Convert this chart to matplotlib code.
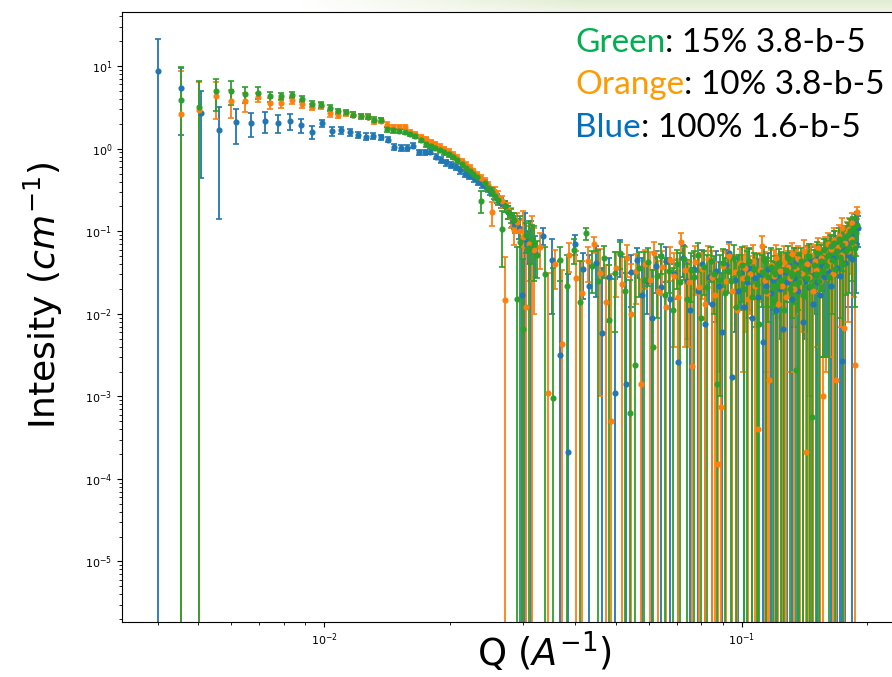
import numpy as np
import matplotlib
matplotlib.use('Agg')
import matplotlib.pyplot as plt

# ---------------- data ----------------
q_blue = [
    0.00400, 0.00454, 0.00507, 0.00561, 0.00615, 0.00669, 0.00722, 0.00776, 0.00830, 0.00883,
    0.00937, 0.00991, 0.01044, 0.01098, 0.01152, 0.01206, 0.01259, 0.01313, 0.01367, 0.01420,
    0.01474, 0.01528, 0.01581, 0.01635, 0.01689, 0.01743, 0.01796, 0.01850, 0.01904, 0.01957,
    0.02011, 0.02065, 0.02118, 0.02172, 0.02226, 0.02280, 0.02333, 0.02387, 0.02441, 0.02494,
    0.02548, 0.02602, 0.02655, 0.02709, 0.02763, 0.02817, 0.02870, 0.02924, 0.02978, 0.03031,
    0.03085, 0.03139,
    0.03192, 0.03353, 0.03514, 0.03676, 0.03837, 0.03998, 0.04159, 0.04320, 0.04481, 0.04642,
    0.04803, 0.04964, 0.05126, 0.05287, 0.05448, 0.05609, 0.05770, 0.05931, 0.06092, 0.06253,
    0.06414, 0.06576, 0.06737, 0.06898, 0.07059, 0.07220, 0.07381, 0.07542, 0.07703, 0.07864,
    0.08026, 0.08187, 0.08348, 0.08509, 0.08670, 0.08831, 0.08992, 0.09153, 0.09314, 0.09476,
    0.09637, 0.09798, 0.09959, 0.10120, 0.10281, 0.10442, 0.10603, 0.10764, 0.10926, 0.11087,
    0.11248, 0.11409, 0.11570, 0.11731, 0.11892, 0.12053, 0.12214, 0.12376, 0.12537, 0.12698,
    0.12859, 0.13020, 0.13181, 0.13342, 0.13503, 0.13664, 0.13826, 0.13987, 0.14148, 0.14309,
    0.14470, 0.14631, 0.14792, 0.14953, 0.15114, 0.15276, 0.15437, 0.15598, 0.15759, 0.15920,
    0.16081, 0.16242, 0.16403, 0.16564, 0.16726, 0.16887, 0.17048, 0.17209, 0.17370, 0.17531,
    0.17692, 0.17853, 0.18014, 0.18176, 0.18337, 0.18498, 0.18659, 0.18820, 0.18981,
]
i_blue = [
    8.8, 5.47, 2.69, 1.69, 2.09, 2.03, 2.15, 2.05, 2.15, 1.91,
    1.60, 2.03, 1.64, 1.67, 1.58, 1.47, 1.40, 1.44, 1.37, 1.29,
    1.06, 1.02, 1.02, 1.09, 0.90, 0.90, 0.92, 0.80, 0.73, 0.68,
    0.64, 0.60, 0.55, 0.50, 0.47, 0.44, 0.40, 0.37, 0.34, 0.31,
    0.28, 0.25, 0.22, 0.20, 0.17, 0.14, 0.125, 0.11, 0.017, 0.08,
    0.07, 0.062,
    0.058, 0.088, 0.045, 0.0032, 0.00021, 0.071, 0.035, 0.022, 0.041, 0.0059,
    0.028, 0.0011, 0.053, 0.0014, 0.032, 0.045, 0.017, 0.025, 0.009, 0.038,
    0.021, 0.044, 0.015, 0.030, 0.0026, 0.048, 0.025, 0.011, 0.035, 0.019,
    0.040, 0.0075, 0.028, 0.013, 0.033, 0.022, 0.006, 0.039, 0.054, 0.0017,
    0.026, 0.019, 0.031, 0.012, 0.024, 0.036, 0.009, 0.027, 0.016, 0.030,
    0.0045, 0.022, 0.035, 0.018, 0.026, 0.011, 0.029, 0.020, 0.0065, 0.032,
    0.024, 0.038, 0.015, 0.027, 0.042, 0.019, 0.031, 0.008, 0.025, 0.036,
    0.021, 0.045, 0.013, 0.030, 0.024, 0.048, 0.017, 0.039, 0.028, 0.055,
    0.033, 0.062, 0.022, 0.047, 0.070, 0.036, 0.058, 0.029, 0.0027, 0.064,
    0.041, 0.075, 0.052, 0.085, 0.046, 0.095, 0.123, 0.068, 0.11,
]
e_blue = [
    12.7, 4.0, 2.25, 1.55, 0.95, 0.66, 0.62, 0.50, 0.45, 0.35,
    0.30, 0.22, 0.20, 0.18, 0.16, 0.14, 0.13, 0.12, 0.11, 0.10,
    0.09, 0.08, 0.08, 0.08, 0.07, 0.07, 0.07, 0.06, 0.06, 0.055,
    0.05, 0.05, 0.05, 0.045, 0.045, 0.04, 0.04, 0.04, 0.035, 0.035,
    0.035, 0.03, 0.03, 0.03, 0.03, 0.028, 0.03, 0.03, 0.06, 0.085,
    0.03, 0.07,
    0.03, 0.02, 0.035, 0.04, 0.03, 0.02, 0.02, 0.03, 0.025, 0.03,
    0.02, 0.025, 0.025, 0.03, 0.02, 0.018, 0.03, 0.015, 0.025, 0.02,
    0.03, 0.02, 0.025, 0.015, 0.03, 0.02, 0.02, 0.025, 0.015, 0.03,
    0.02, 0.03, 0.015, 0.02, 0.025, 0.02, 0.025, 0.02, 0.02, 0.025,
    0.02, 0.03, 0.02, 0.025, 0.015, 0.025, 0.02, 0.02, 0.03, 0.015,
    0.025, 0.02, 0.02, 0.025, 0.015, 0.03, 0.02, 0.015, 0.025, 0.02,
    0.03, 0.02, 0.025, 0.02, 0.02, 0.03, 0.015, 0.025, 0.02, 0.03,
    0.02, 0.02, 0.03, 0.02, 0.025, 0.02, 0.03, 0.02, 0.025, 0.025,
    0.03, 0.025, 0.03, 0.025, 0.03, 0.04, 0.03, 0.04, 0.04, 0.03,
    0.045, 0.035, 0.04, 0.04, 0.05, 0.04, 0.04, 0.05, 0.045,
]

q_low_go = [
    0.00455, 0.00503, 0.00551, 0.00599, 0.00647, 0.00695, 0.00743, 0.00791, 0.00839, 0.00887,
    0.00935, 0.00983, 0.01031, 0.01079, 0.01127, 0.01175, 0.01223, 0.01271, 0.01319, 0.01367,
    0.01415, 0.01463, 0.01511, 0.01559, 0.01607, 0.01655, 0.01703, 0.01751, 0.01799, 0.01847,
    0.01895, 0.01943, 0.01991, 0.02039, 0.02087, 0.02135, 0.02183, 0.02231, 0.02279, 0.02327,
    0.02375, 0.02423, 0.02471, 0.02519, 0.02567, 0.02615, 0.02663, 0.02711, 0.02759, 0.02807,
    0.02855, 0.02903, 0.02951, 0.02999, 0.03047, 0.03095, 0.03143, 0.03191,
]

q_green = q_low_go + [
    0.03239, 0.03383, 0.03527, 0.03671, 0.03815, 0.03959, 0.04103, 0.04247, 0.04391, 0.04535,
    0.04679, 0.04823, 0.04967, 0.05111, 0.05255, 0.05399, 0.05543, 0.05687, 0.05831, 0.05975,
    0.06119, 0.06263, 0.06407, 0.06551, 0.06695, 0.06839, 0.06983, 0.07127, 0.07271, 0.07415,
    0.07559, 0.07703, 0.07847, 0.07991, 0.08135, 0.08279, 0.08423, 0.08567, 0.08711, 0.08855,
    0.08999, 0.09143, 0.09287, 0.09431, 0.09575, 0.09719, 0.09863, 0.10007, 0.10151, 0.10295,
    0.10439, 0.10583, 0.10727, 0.10871, 0.11015, 0.11159, 0.11303, 0.11447, 0.11591, 0.11735,
    0.11879, 0.12023, 0.12167, 0.12311, 0.12455, 0.12599, 0.12743, 0.12887, 0.13031, 0.13175,
    0.13319, 0.13463, 0.13607, 0.13751, 0.13895, 0.14039, 0.14183, 0.14327, 0.14471, 0.14615,
    0.14759, 0.14903, 0.15047, 0.15191, 0.15335, 0.15479, 0.15623, 0.15767, 0.15911, 0.16055,
    0.16199, 0.16343, 0.16487, 0.16631, 0.16775, 0.16919, 0.17063, 0.17207, 0.17351, 0.17495,
    0.17639, 0.17783, 0.17927, 0.18071, 0.18215, 0.18359, 0.18503, 0.18647, 0.18791, 0.18935,
]
i_green = [
    3.84, 3.24, 4.97, 4.97, 4.54, 4.76, 4.32, 4.32, 4.50, 4.02,
    3.50, 3.36, 3.13, 2.84, 2.77, 2.59, 2.47, 2.45, 2.25, 2.25,
    1.71, 1.66, 1.63, 1.61, 1.51, 1.43, 1.28, 1.14, 1.08, 1.02,
    0.97, 0.90, 0.86, 0.80, 0.72, 0.65, 0.58, 0.54, 0.49, 0.45,
    0.235, 0.38, 0.33, 0.30, 0.27, 0.24, 0.107, 0.20, 0.17, 0.155,
    0.135, 0.015, 0.075, 0.0066, 0.09, 0.062, 0.08, 0.07,
    0.052, 0.030, 0.00095, 0.045, 0.022, 0.060, 0.014, 0.094, 0.038, 0.025,
    0.047, 0.0085, 0.031, 0.055, 0.019, 0.00063, 0.0024, 0.036, 0.026, 0.042,
    0.004, 0.029, 0.050, 0.017, 0.033, 0.011, 0.040, 0.024, 0.046, 0.015,
    0.034, 0.028, 0.052, 0.009, 0.037, 0.021, 0.044, 0.030, 0.0014, 0.026,
    0.041, 0.018, 0.033, 0.025, 0.048, 0.012, 0.031, 0.039, 0.020, 0.027,
    0.043, 0.016, 0.035, 0.023, 0.0075, 0.032, 0.045, 0.019, 0.028, 0.037,
    0.014, 0.030, 0.022, 0.041, 0.026, 0.011, 0.034, 0.047, 0.020, 0.029,
    0.038, 0.0021, 0.031, 0.024, 0.043, 0.017, 0.035, 0.027, 0.050, 0.022,
    0.00056, 0.039, 0.030, 0.055, 0.025, 0.044, 0.033, 0.060, 0.038, 0.052,
    0.028, 0.066, 0.045, 0.072, 0.035, 0.058, 0.080, 0.049, 0.068, 0.040,
    0.085, 0.057, 0.090, 0.063, 0.100, 0.075, 0.110, 0.062, 0.095, 0.120,
]
e_green = [
    5.9, 3.3, 2.1, 1.6, 1.0, 0.8, 0.6, 0.45, 0.4, 0.35,
    0.3, 0.27, 0.25, 0.22, 0.2, 0.18, 0.16, 0.15, 0.14, 0.13,
    0.12, 0.11, 0.1, 0.1, 0.09, 0.09, 0.08, 0.08, 0.07, 0.07,
    0.065, 0.06, 0.06, 0.05, 0.05, 0.05, 0.045, 0.045, 0.04, 0.04,
    0.07, 0.04, 0.035, 0.035, 0.03, 0.03, 0.07, 0.03, 0.03, 0.03,
    0.03, 0.05, 0.08, 0.04, 0.035, 0.07, 0.04, 0.045,
    0.025, 0.035, 0.035, 0.02, 0.03, 0.02, 0.03, 0.015, 0.02, 0.035,
    0.02, 0.03, 0.025, 0.02, 0.03, 0.025, 0.03, 0.02, 0.03, 0.02,
    0.03, 0.02, 0.02, 0.03, 0.015, 0.025, 0.02, 0.03, 0.02, 0.025,
    0.02, 0.03, 0.02, 0.025, 0.02, 0.03, 0.02, 0.02, 0.025, 0.025,
    0.02, 0.03, 0.015, 0.025, 0.02, 0.03, 0.02, 0.025, 0.02, 0.03,
    0.02, 0.025, 0.02, 0.03, 0.025, 0.02, 0.02, 0.03, 0.02, 0.025,
    0.03, 0.02, 0.025, 0.02, 0.03, 0.025, 0.02, 0.02, 0.03, 0.02,
    0.025, 0.03, 0.02, 0.03, 0.02, 0.025, 0.02, 0.03, 0.02, 0.025,
    0.03, 0.02, 0.03, 0.02, 0.03, 0.025, 0.03, 0.02, 0.035, 0.025,
    0.04, 0.025, 0.035, 0.03, 0.04, 0.03, 0.03, 0.04, 0.035, 0.045,
    0.03, 0.04, 0.035, 0.045, 0.04, 0.05, 0.04, 0.05, 0.045, 0.05,
]

q_orange = q_low_go + [
    0.03287, 0.03431, 0.03575, 0.03719, 0.03863, 0.04007, 0.04151, 0.04295, 0.04439, 0.04583,
    0.04727, 0.04871, 0.05015, 0.05159, 0.05303, 0.05447, 0.05591, 0.05735, 0.05879, 0.06023,
    0.06167, 0.06311, 0.06455, 0.06599, 0.06743, 0.06887, 0.07031, 0.07175, 0.07319, 0.07463,
    0.07607, 0.07751, 0.07895, 0.08039, 0.08183, 0.08327, 0.08471, 0.08615, 0.08759, 0.08903,
    0.09047, 0.09191, 0.09335, 0.09479, 0.09623, 0.09767, 0.09911, 0.10055, 0.10199, 0.10343,
    0.10487, 0.10631, 0.10775, 0.10919, 0.11063, 0.11207, 0.11351, 0.11495, 0.11639, 0.11783,
    0.11927, 0.12071, 0.12215, 0.12359, 0.12503, 0.12647, 0.12791, 0.12935, 0.13079, 0.13223,
    0.13367, 0.13511, 0.13655, 0.13799, 0.13943, 0.14087, 0.14231, 0.14375, 0.14519, 0.14663,
    0.14807, 0.14951, 0.15095, 0.15239, 0.15383, 0.15527, 0.15671, 0.15815, 0.15959, 0.16103,
    0.16247, 0.16391, 0.16535, 0.16679, 0.16823, 0.16967, 0.17111, 0.17255, 0.17399, 0.17543,
    0.17687, 0.17831, 0.17975, 0.18119, 0.18263, 0.18407, 0.18551, 0.18695, 0.18839,
]
i_orange = [
    2.64, 2.96, 4.32, 3.76, 3.76, 4.20, 3.56, 3.56, 3.84, 3.50,
    3.20, 3.27, 2.69, 2.59, 2.69, 2.57, 2.48, 2.43, 2.15, 2.19,
    1.96, 1.85, 1.85, 1.82, 1.61, 1.51, 1.38, 1.30, 1.20, 1.13,
    1.06, 1.00, 0.92, 0.84, 0.78, 0.70, 0.64, 0.58, 0.53, 0.48,
    0.44, 0.40, 0.36, 0.17, 0.30, 0.26, 0.23, 0.0147, 0.18, 0.15,
    0.103, 0.13, 0.10, 0.085, 0.012, 0.07, 0.075, 0.06,
    0.065, 0.0011, 0.040, 0.0043, 0.052, 0.027, 0.018, 0.044, 0.070, 0.031,
    0.014, 0.00051, 0.036, 0.023, 0.048, 0.010, 0.033, 0.0014, 0.040, 0.026,
    0.054, 0.019, 0.037, 0.012, 0.045, 0.029, 0.016, 0.075, 0.034, 0.024,
    0.0023, 0.042, 0.021, 0.035, 0.013, 0.046, 0.028, 0.017, 0.00015, 0.00075,
    0.038, 0.025, 0.050, 0.019, 0.032, 0.011, 0.041, 0.027, 0.036, 0.015,
    0.030, 0.044, 0.022, 0.0004, 0.034, 0.067, 0.026, 0.018, 0.0016, 0.039,
    0.029, 0.048, 0.013, 0.033, 0.022, 0.042, 0.016, 0.037, 0.027, 0.053,
    0.020, 0.035, 0.046, 0.024, 0.031, 0.058, 0.00021, 0.040, 0.028, 0.051,
    0.019, 0.044, 0.034, 0.062, 0.025, 0.048, 0.001, 0.056, 0.037, 0.070,
    0.043, 0.061, 0.030, 0.078, 0.0016, 0.065, 0.088, 0.052, 0.110, 0.0067,
    0.072, 0.095, 0.058, 0.105, 0.080, 0.125, 0.066, 0.0024, 0.169,
]
e_orange = [
    6.2, 3.5, 2.05, 1.4, 1.0, 0.5, 0.55, 0.45, 0.4, 0.35,
    0.3, 0.27, 0.25, 0.22, 0.2, 0.18, 0.16, 0.15, 0.14, 0.13,
    0.12, 0.11, 0.1, 0.1, 0.09, 0.09, 0.08, 0.08, 0.07, 0.07,
    0.065, 0.06, 0.06, 0.06, 0.055, 0.055, 0.05, 0.05, 0.045, 0.045,
    0.04, 0.04, 0.04, 0.055, 0.045, 0.045, 0.04, 0.034, 0.04, 0.04,
    0.035, 0.035, 0.035, 0.09, 0.05, 0.045, 0.08, 0.05,
    0.03, 0.03, 0.02, 0.03, 0.02, 0.03, 0.025, 0.02, 0.015, 0.03,
    0.025, 0.03, 0.02, 0.03, 0.02, 0.03, 0.02, 0.025, 0.02, 0.03,
    0.02, 0.025, 0.02, 0.03, 0.02, 0.025, 0.03, 0.02, 0.03, 0.02,
    0.03, 0.025, 0.03, 0.02, 0.025, 0.02, 0.03, 0.025, 0.03, 0.025,
    0.02, 0.03, 0.02, 0.025, 0.02, 0.03, 0.02, 0.025, 0.03, 0.025,
    0.02, 0.025, 0.03, 0.025, 0.02, 0.02, 0.03, 0.025, 0.03, 0.02,
    0.03, 0.02, 0.025, 0.02, 0.03, 0.025, 0.03, 0.02, 0.025, 0.02,
    0.03, 0.025, 0.02, 0.03, 0.025, 0.02, 0.03, 0.025, 0.03, 0.02,
    0.03, 0.025, 0.03, 0.02, 0.035, 0.025, 0.03, 0.03, 0.035, 0.025,
    0.04, 0.03, 0.04, 0.03, 0.04, 0.035, 0.03, 0.045, 0.035, 0.04,
    0.04, 0.035, 0.05, 0.04, 0.05, 0.04, 0.05, 0.05, 0.03,
]

legend_lines = [
    ("Green", ": 15% 3.8-b-5", "#00b050"),
    ("Orange", ": 10% 3.8-b-5", "#ff9a00"),
    ("Blue", ": 100% 1.6-b-5", "#0070c0"),
]

# ---------------- figure ----------------
W, H = 892, 677
fig = plt.figure(figsize=(W / 100, H / 100), dpi=100)
fig.patch.set_facecolor('white')

# slide background strip at the top right
band = fig.add_axes([0, 1 - 12 / H, 1, 12 / H])
xs = np.arange(W)
ramp = np.clip((xs - 300) / 280.0, 0, 1)
end = np.array([0.89, 0.93, 0.83])
row = 1 - ramp[:, None] * (1 - end[None, :])
vert = np.linspace(1.0, 0.6, 12)[:, None, None]
img = 1 - vert * (1 - row[None, :, :])
band.imshow(img, aspect='auto', extent=[0, W, 0, 12], interpolation='bilinear')
band.set_axis_off()

ax = fig.add_axes([122 / W, 55 / H, 775 / W, 610 / H])
ax.set_xscale('log')
ax.set_yscale('log')

series = [
    (q_blue, i_blue, e_blue, '#1f77b4'),
    (q_orange, i_orange, e_orange, '#ff7f0e'),
    (q_green, i_green, e_green, '#2ca02c'),
]
for q, iv, ev, col in series:
    ax.errorbar(q, iv, yerr=ev, fmt='o', color=col, ms=3.4, capsize=2.2,
                elinewidth=1.3, capthick=1.2)

ax.set_xlim(0.003283, 0.2355)
ax.set_ylim(1.85e-6, 45.2)
ax.tick_params(labelsize=8)

# axis titles placed as slide text
fig.text(544 / W, 1 - 666 / H, 'Q ($A^{-1}$)', fontsize=26.5,
         ha='center', va='baseline')
fig.text(43 / W, 1 - 295 / H, 'Intesity ($cm^{-1}$)', fontsize=26,
         rotation=90, ha='center', va='center')

# coloured annotation lines
fig.canvas.draw()
renderer = fig.canvas.get_renderer()
base_y = [51.7, 94.0, 136.7]
for (word, rest, col), by in zip(legend_lines, base_y):
    t1 = fig.text(575 / W, 1 - by / H, word, color=col, fontsize=24,
                  family='Lato', va='baseline', ha='left')
    bb = t1.get_window_extent(renderer)
    fig.text(bb.x1 / W, 1 - by / H, rest, color='black', fontsize=24,
             family='Lato', va='baseline', ha='left')

fig.savefig('out.png', dpi=100)
